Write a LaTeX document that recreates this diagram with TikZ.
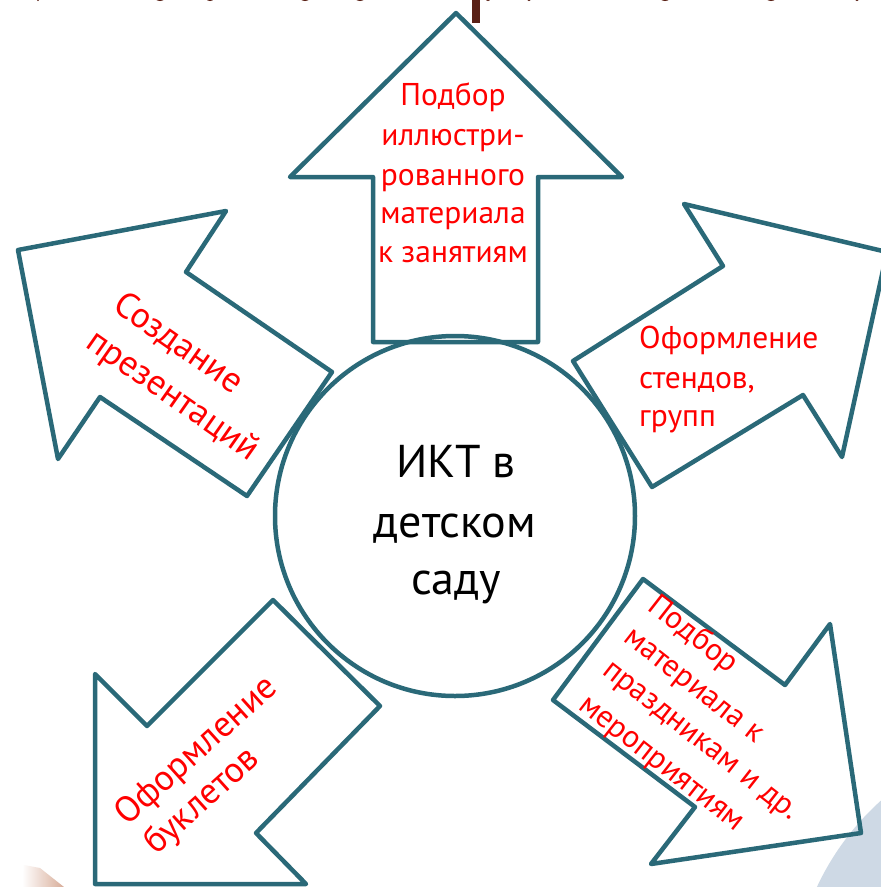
\documentclass[tikz,border=0pt]{standalone}
\usepackage{fontspec}
\setmainfont{PT Sans}
\definecolor{arrowteal}{HTML}{2A6978}
\definecolor{titlebrown}{HTML}{5A2116}
\definecolor{cornerblue}{HTML}{CED9E5}
\definecolor{cornerpeach}{HTML}{D8AC98}
\begin{document}
\begin{tikzpicture}[x=1pt,y=-1pt,
  arrowshape/.style={draw=arrowteal, line width=4.5pt, line join=round},
  redmid/.style={text=red, font=\fontsize{31.5}{36}\selectfont, inner sep=0pt, anchor=base},
  redleft/.style={text=red, font=\fontsize{31.5}{36}\selectfont, inner sep=0pt, anchor=base west},
  redbig/.style={text=red, font=\fontsize{36}{40}\selectfont, inner sep=0pt, anchor=base west},
  hubtext/.style={text=black, font=\fontsize{46}{54}\selectfont, inner sep=0pt, anchor=base},
  titlemark/.style={fill=titlebrown}]
\useasboundingbox (0,0) rectangle (881,887);
\begin{scope}
\clip (0,0) rectangle (881,887);
\fill[white] (0,0) rectangle (881,887);
% corner decorations
\fill[cornerblue] (1060,1000) circle (268pt);
\shade[left color=white, right color=cornerpeach] (24,865) -- (40,868) -- (64,887) -- (22,887) -- cycle;
% remains of the cut-off title
\fill[titlebrown] (472,-2) rectangle (480,23);
\foreach \mx/\mr in {38/2,160/7,210/6,305/7,360/7,488/4,529/3,665/7,771/7,857/3}
  \fill[titlemark] (\mx,-6) ellipse [x radius=\mr pt, y radius=7pt];
% arrows
\draw[arrowshape] (456,13) -- (622,177) -- (538,177) -- (538,342) -- (373,342) -- (373,177) -- (290,177) -- cycle;
\draw[arrowshape] (18,250) -- (58,459) -- (100,397) -- (247,496) -- (332,372) -- (186,272) -- (226,211) -- cycle;
\draw[arrowshape] (887,252) -- (684,204) -- (723,266) -- (573,361) -- (652,487) -- (803,395) -- (842,457) -- cycle;
\draw[arrowshape] (861,833) -- (830,624) -- (785,685) -- (643,579) -- (553,700) -- (695,807) -- (651,864) -- cycle;
\draw[arrowshape] (95,884) -- (95,674) -- (147,726) -- (273,600) -- (380,706) -- (256,833) -- (306,884) -- cycle;
% hub
\node[circle, draw=arrowteal, line width=4.5pt, minimum size=360pt, inner sep=0pt] (hub) at (455,516) {};
\end{scope}
\node[hubtext] (hubA) at (456,477) {ИКТ в};
\node[hubtext] (hubB) at (455,537) {детском};
\node[hubtext] (hubC) at (456,594) {саду};
% top arrow text
\node[redmid] (topA) at (453,105) {Подбор};
\node[redmid] (topB) at (453,145) {иллюстри-};
\node[redmid] (topC) at (453,185) {рованного};
\node[redmid] (topD) at (453,223) {материала};
\node[redmid] (topE) at (453,262) {к занятиям};
% right arrow text
\node[redleft] (rightA) at (639,348) {Оформление};
\node[redleft] (rightB) at (639,388) {стендов,};
\node[redleft] (rightC) at (639,426) {групп};
% left arrow text
\node[redbig, rotate=-35] (leftA) at (111,309) {Создание};
\node[redbig, rotate=-35] (leftB) at (84,346) {презентаций};
% lower right arrow text
\node[redleft, rotate=-38] (lrA) at (646,609) {Подбор};
\node[redleft, rotate=-38] (lrB) at (622,640) {материала к};
\node[redleft, rotate=-38] (lrC) at (601,673) {праздникам и др.};
\node[redleft, rotate=-38] (lrD) at (577,708) {мероприятиям};
% lower left arrow text
\node[redbig, rotate=42] (llA) at (127,827) {Оформление};
\node[redbig, rotate=42] (llB) at (156,856) {буклетов};
\end{tikzpicture}
\end{document}
